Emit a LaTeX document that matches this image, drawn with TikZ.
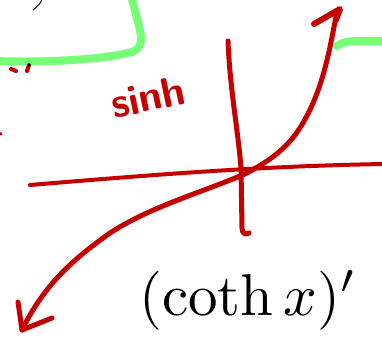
\documentclass[tikz,border=0pt]{standalone}
\usepackage{tikz}
\usetikzlibrary{positioning,arrows.meta}
\usepackage{amsmath,amssymb}
\usepackage{xcolor}

\definecolor{inkred}{RGB}{196,0,0}
\definecolor{inkgreen}{RGB}{120,255,120}

\begin{document}
\begin{tikzpicture}[
				x=1pt, y=-1pt,
				redink/.style={draw=inkred, line width=5pt, line cap=round, line join=round},
				greenink/.style={draw=inkgreen, line width=8pt, line cap=round, line join=round},
				label/.style={inner sep=0pt, scale=5.9}
			]
			\useasboundingbox (0,0) rectangle (382,337);

			% Green boxes
			\draw[greenink] (-5,61) .. controls (60,63) and (110,58) .. (132,52)
				.. controls (142,48) and (142,40) .. (140,30) -- (131,-5);
			\draw[greenink] (337,46) .. controls (342,42) and (350,41) .. (360,41) -- (390,41);

			% Black stroke top left
			\draw[black, line width=1pt] (33,10) .. controls (38,6) and (41,3) .. (42,-1);

			% Small red marks
			\draw[redink, line width=4pt] (11,69) -- (16,71);
			\draw[redink, line width=4pt] (29,65) -- (27,71);
			\fill[black] (29,65) circle (1.5pt);
			\draw[redink, line width=3pt] (-2,133) -- (1,134);

			% Axes
			\draw[redink, line width=4pt] (30,185) .. controls (150,175) and (260,166) .. (385,164);
			\draw[redink] (228,41) .. controls (230,90) and (238,130) .. (241,168)
				-- (242,228) .. controls (242,234) and (246,235) .. (249,233);

			% sinh curve
			\draw[redink] (337,12) .. controls (330,45) and (325,85) .. (303,123)
				.. controls (290,145) and (275,158) .. (245,174)
				.. controls (200,193) and (150,207) .. (110,233)
				.. controls (75,258) and (45,283) .. (22,330);
			% Arrow heads
			\draw[redink, line width=6pt] (314,24) -- (340,9) -- (336,20);
			\draw[redink] (18,302) -- (22,330) -- (52,318);

			% Label of curve
			\node[text=inkred, rotate=12, scale=4.2, font=\sffamily\bfseries] (sinhlabel) at (148,97) {sinh};

			% Formula
			\node[label, anchor=base west] (cothprime) at (138,315) {$(\coth x)'$};
		\end{tikzpicture}
\end{document}
